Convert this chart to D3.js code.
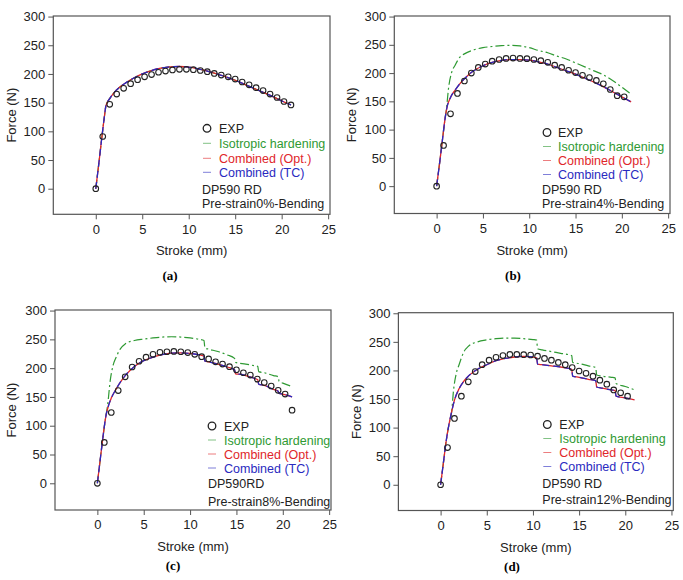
<!DOCTYPE html>
<html>
<head>
<meta charset="utf-8">
<script src="https://cdn.jsdelivr.net/npm/d3@7"></script>
<style>
  body { margin: 0; background: #fff; }
  text { font-family: "Liberation Sans", Arial, sans-serif; }
</style>
</head>
<body>
<div id="chart"></div>
<script>
// stroke positions of the EXP markers (mm)
const strokeExp = [0, 0.75, 1.5, 2.25, 3, 3.75, 4.5, 5.25, 6, 6.75, 7.5, 8.25, 9, 9.75, 10.5,
    11.25, 12, 12.75, 13.5, 14.25, 15, 15.75, 16.5, 17.25, 18, 18.75, 19.5, 20.25, 21]

// EXP force (N) for each panel
const expA = [0, 91, 147, 165, 175, 183, 190, 195, 199, 203, 205, 207, 208, 208, 207.5,
    206, 204, 201, 198, 195, 191, 186, 181, 176, 171, 165, 159, 152, 146]
const expB = [0, 72, 128, 164, 186, 200, 210, 216, 221, 224, 226, 226.5, 226, 225.5, 224,
    222, 219, 214, 210, 205, 201, 196, 192, 187, 181, 171, 160, 158]
const expC = [0, 71, 123, 161, 185, 202, 212, 219, 224, 227.5, 228.5, 229, 228.5, 227, 224,
    220, 216, 211, 207, 202.5, 197, 192, 188, 181, 175, 169, 161.5, 155, 127]
const expD = [0, 65, 116, 155, 180, 198, 210, 218, 223, 226, 228, 228, 227.5, 227, 225,
    221, 218, 214, 210, 205, 199, 195, 190, 183, 176, 166, 161, 155]

// simulated curves [stroke, force]
const optA = [[0,0],[0.3,40],[0.6,82],[0.9,122],[1.1,145],[1.5,157],[2,168],[2.5,176],[3,182],
    [4,192],[5,200],[6,206],[7,210],[8,212.5],[9,213],[10,212],[11,209],[12,205],[13,200],
    [14,195],[15,189],[16,182],[17,175],[18,168],[19,161],[20,153],[21,146]]
const isoA = optA   // the three curves coincide for 0% pre-strain
const tcA = optA

const optB = [[0,0],[0.3,38],[0.6,78],[0.9,118],[1.1,138],[1.5,157],[2,170],[2.5,181],[3,190],
    [4,204],[5,213],[6,219],[7,222.5],[8,224],[9,224],[10,223],[11,220],[12,216],[13,210],
    [14,204],[15,198],[16,191],[17,184],[18,176],[19,167],[20,158],[21,149]]
const tcB = optB
const isoB = [[0,0],[0.3,38],[0.6,78],[0.9,118],[1.05,135],[1.3,175],[1.6,200],[2,214],[2.5,228],
    [3,234],[4,241],[5,245],[6,247],[7,248.5],[8,249],[9,248],[10,245],[11,240],[12,236],
    [13,230],[14,225],[15,218],[16,211],[17,204],[18,197],[19,187],[20,175],[21,163]]

const optC = [[0,0],[0.3,40],[0.6,80],[0.9,115],[1.2,135],[1.5,148],[2,163],[2.5,176],[3,187],
    [4,203],[5,213],[6,219],[7,223.5],[8,226],[9,226.5],[10,225.5],[11,223],[11.5,221],
    [11.6,212],[12,211],[13,207],[14,202],[14.8,197],[14.9,190],[15.5,189],[16,187],[17,182],
    [17.3,180],[17.4,172],[18,170],[19,163],[19.5,160],[19.6,156],[20,155],[21,150]]
const tcC = optC
const isoC = [[0,0],[0.3,40],[0.6,80],[0.9,115],[1.1,135],[1.4,180],[1.7,205],[2,218],[2.5,234],
    [3,242],[4,248],[5,250.5],[6,252.5],[7,254],[8,254.5],[9,254],[10,252.5],[11,250],
    [11.5,248],[11.6,235],[12,233],[13,229],[14,223],[14.8,217],[14.9,210],[16,207],[17,204],
    [17.3,203],[17.4,194],[18,192],[19,187],[19.5,185],[19.6,177],[20,174],[21,168]]

const optD = [[0,0],[0.3,38],[0.6,76],[0.9,105],[1.2,128],[1.5,148],[2,168],[2.5,181],[3,190],
    [4,202],[5,210],[6,217],[7,221],[8,223.5],[9,224.5],[10,223.5],[10.4,222],[10.5,211],
    [11,210],[12,208],[13,206],[14,203],[14.2,202],[14.3,190],[15,188],[16,184.5],[16.8,182],
    [16.9,171],[17.5,169],[18.5,166],[18.9,165],[19,155],[20,152],[21,148.5]]
const tcD = optD
const isoD = [[0,0],[0.3,38],[0.6,76],[0.9,105],[1.2,128],[1.4,165],[1.7,195],[2,210],[2.5,232],
    [3,242],[4,250],[5,253.5],[6,255.5],[7,256.5],[8,256.5],[9,255.5],[10,254],[10.4,253],
    [10.5,238],[11,236],[12,233],[13,230],[14,227],[14.2,226],[14.3,214],[15,212],[16,208],
    [16.8,205],[16.9,192],[17.5,190],[18.5,188],[18.9,187],[19,177],[20,172],[21,166]]

const xTicks = [0, 5, 10, 15, 20, 25]
const yTicks = [0, 50, 100, 150, 200, 250, 300]
const legendNames = ["EXP", "Isotropic hardening", "Combined (Opt.)", "Combined (TC)"]
const panelLabels = ["(a)", "(b)", "(c)", "(d)"]
const materials = ["DP590 RD", "DP590 RD", "DP590RD", "DP590 RD"]
const conditions = ["Pre-strain0%-Bending", "Pre-strain4%-Bending", "Pre-strain8%-Bending", "Pre-strain12%-Bending"]

const expSets = [expA, expB, expC, expD]
const isoSets = [isoA, isoB, isoC, isoD]
const optSets = [optA, optB, optC, optD]
const tcSets = [tcA, tcB, tcC, tcD]

const colors = {iso: "#2f9a33", opt: "#e0262a", tc: "#2a2ac0"}
const fs = "13px"
const legFs = "12.5px"

// frame boxes and text placement for the four panels
const panels = [
    {L: 53.3, T: 16, R: 330, B: 214.3, yMin: -44.6, yTitleX: 12, labelX: 170, labelY: 280,
        symOff: 123, txtOff: 111, dpOff: 128, rows: [-86, -71, -56, -42], dpRows: [-25, -11]},
    {L: 394.3, T: 16, R: 670, B: 213.5, yMin: -48.4, yTitleX: 352, labelX: 513, labelY: 280,
        symOff: 123, txtOff: 112, dpOff: 128, rows: [-81, -67, -53, -39], dpRows: [-24, -10]},
    {L: 55, T: 310, R: 331, B: 510, yMin: -46.4, yTitleX: 12, labelX: 173, labelY: 570,
        symOff: 119, txtOff: 107, dpOff: 123, rows: [-84, -70, -56, -42], dpRows: [-27, -9]},
    {L: 398.4, T: 312.7, R: 673.3, B: 510.5, yMin: -45, yTitleX: 357, labelX: 512, labelY: 571,
        symOff: 126, txtOff: 114, dpOff: 131, rows: [-86, -72, -58, -44], dpRows: [-27, -11]}
]

const svg = d3.select("#chart")
    .append("svg")
    .attr("width", 683)
    .attr("height", 580)
    .style("background", "#fff")

panels.forEach(function(p, i) {
    let x = d3.scaleLinear().domain([-4.57, 25.2]).range([p.L, p.R])
    let y = d3.scaleLinear().domain([p.yMin, 301]).range([p.B, p.T])
    let g = svg.append("g")

    // axes
    g.append("g")
        .attr("transform", "translate(0," + p.B + ")")
        .call(d3.axisBottom(x).tickValues(xTicks).tickSize(5).tickPadding(5).tickSizeOuter(0))
    g.append("g")
        .attr("transform", "translate(" + p.L + ",0)")
        .call(d3.axisLeft(y).tickValues(yTicks).tickSize(5).tickPadding(3).tickSizeOuter(0))
    g.selectAll(".domain").remove()
    g.selectAll(".tick line").attr("stroke", "#555")
    g.selectAll(".tick text")
        .attr("fill", "#222")
        .style("font-size", fs)
        .style("font-family", '"Liberation Sans", Arial, sans-serif')

    g.append("rect")
        .attr("x", p.L).attr("y", p.T)
        .attr("width", p.R - p.L).attr("height", p.B - p.T)
        .attr("fill", "none")
        .attr("stroke", "#555")
        .attr("stroke-width", 1.2)

    // titles
    g.append("text")
        .attr("x", (p.L + p.R) / 2).attr("y", p.B + 41)
        .attr("text-anchor", "middle")
        .style("font-size", fs).attr("fill", "#222")
        .text("Stroke (mm)")
    g.append("text")
        .attr("transform", "translate(" + (p.yTitleX + 4) + "," + ((p.T + p.B) / 2) + ") rotate(-90)")
        .attr("text-anchor", "middle")
        .style("font-size", fs).attr("fill", "#222")
        .text("Force (N)")
    g.append("text")
        .attr("x", p.labelX).attr("y", p.labelY)
        .attr("text-anchor", "middle")
        .style("font-family", '"Liberation Serif", "Times New Roman", serif')
        .style("font-size", "13px").style("font-weight", "bold")
        .text(panelLabels[i])

    // curves
    let line = d3.line()
        .x(function(d) { return x(d[0]) })
        .y(function(d) { return y(d[1]) })
        .curve(d3.curveMonotoneX)

    g.append("path").datum(isoSets[i])
        .attr("fill", "none").attr("stroke", colors.iso)
        .attr("stroke-width", 1.2).attr("stroke-dasharray", "9,3,2,3")
        .attr("d", line)
    g.append("path").datum(optSets[i])
        .attr("fill", "none").attr("stroke", colors.opt)
        .attr("stroke-width", 1.3)
        .attr("d", line)
    g.append("path").datum(tcSets[i])
        .attr("fill", "none").attr("stroke", colors.tc)
        .attr("stroke-width", 1.3).attr("stroke-dasharray", "7,4")
        .attr("d", line)

    g.selectAll(".exp")
        .data(expSets[i])
        .enter()
        .append("circle")
        .attr("cx", function(d, k) { return x(strokeExp[k]) })
        .attr("cy", function(d) { return y(d) })
        .attr("r", 2.8)
        .attr("fill", "none")
        .attr("stroke", "#222")
        .attr("stroke-width", 1.1)

    // legend
    let sx = p.R - p.symOff, tx = p.R - p.txtOff
    let legColors = ["#222", colors.iso, colors.opt, colors.tc]
    g.append("circle")
        .attr("cx", sx).attr("cy", p.B + p.rows[0])
        .attr("r", 3.8).attr("fill", "none")
        .attr("stroke", "#222").attr("stroke-width", 1.3)
    for (let k = 1; k < 4; k++) {
        g.append("line")
            .attr("x1", sx - 4).attr("x2", sx + 4)
            .attr("y1", p.B + p.rows[k]).attr("y2", p.B + p.rows[k])
            .attr("stroke", legColors[k]).attr("stroke-opacity", 0.6)
            .attr("stroke-width", 1)
    }
    legendNames.forEach(function(name, k) {
        g.append("text")
            .attr("x", tx).attr("y", p.B + p.rows[k])
            .attr("dy", "0.36em")
            .style("font-size", legFs)
            .attr("fill", legColors[k])
            .text(name)
    })
    g.append("text")
        .attr("x", p.R - p.dpOff).attr("y", p.B + p.dpRows[0]).attr("dy", "0.36em")
        .style("font-size", legFs).attr("fill", "#222")
        .text(materials[i])
    g.append("text")
        .attr("x", p.R - p.dpOff).attr("y", p.B + p.dpRows[1]).attr("dy", "0.36em")
        .style("font-size", legFs).attr("fill", "#222")
        .text(conditions[i])
})
</script>
</body>
</html>
